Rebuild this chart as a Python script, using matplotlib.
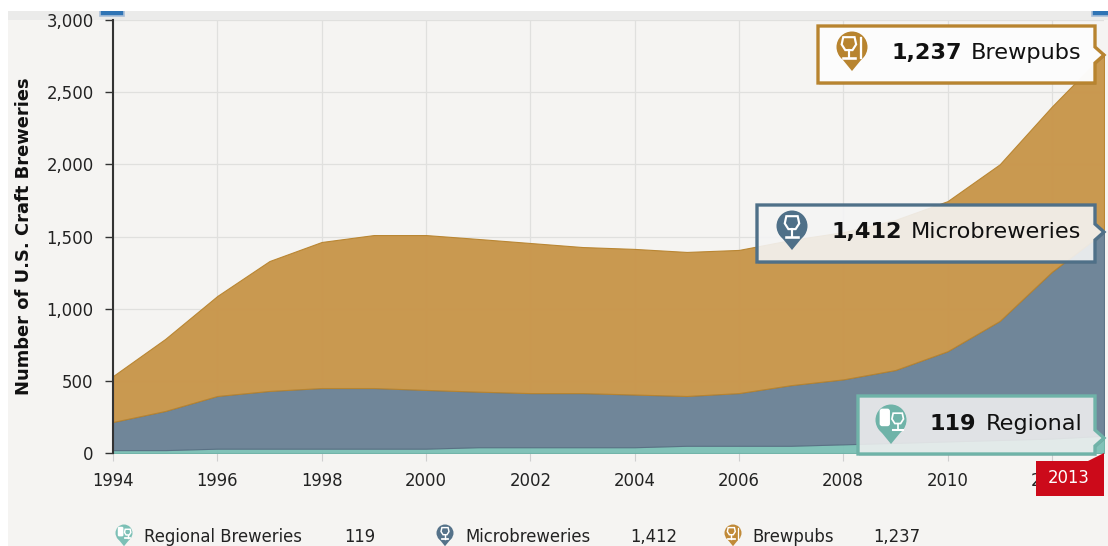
import matplotlib
matplotlib.use("Agg")
import matplotlib.pyplot as plt
from matplotlib.patches import Polygon, Rectangle, Circle, FancyBboxPatch
from matplotlib.ticker import FuncFormatter

years = list(range(1994, 2014))
regional = [20, 20, 30, 30, 30, 30, 30, 40, 40, 40, 40, 50, 50, 50, 60, 70, 80, 90, 100, 119]
micro = [195, 271, 365, 400, 420, 420, 407, 385, 375, 375, 365, 345, 365, 420, 450, 505, 625, 825, 1155, 1412]
brewpubs = [318, 499, 693, 900, 1012, 1060, 1073, 1058, 1040, 1012, 1009, 998, 992, 1006, 1020, 1040, 1040, 1085, 1145, 1237]
series_colors = ["#7cc0b6", "#6b8296", "#c89549"]
edge_colors = ["#6fb3a8", "#5a7084", "#b8842f"]
legend_names = ["Regional Breweries", "Microbreweries", "Brewpubs"]
callout_names = ["Regional", "Microbreweries", "Brewpubs"]
x_ticks = list(range(1994, 2013, 2))
y_ticks = [0, 500, 1000, 1500, 2000, 2500, 3000]

W, H = 1108, 546
plt.rcParams["font.family"] = "DejaVu Sans"
fig = plt.figure(figsize=(W / 100, H / 100), dpi=100, facecolor="white")

# background layer in pixel coordinates
bg = fig.add_axes([0, 0, 1, 1], zorder=0)
bg.set_xlim(0, W); bg.set_ylim(H, 0); bg.axis("off")
bg.add_patch(Rectangle((8, 11), W - 8, H - 11, fc="#f5f4f2", ec="none"))
bg.add_patch(Rectangle((8, 11), W - 8, 9, fc="#ebebea", ec="none"))

# main chart
L, R, T, B = 113, 1104, 20, 453
ax = fig.add_axes([L / W, 1 - B / H, (R - L) / W, (B - T) / H], zorder=1)
ax.patch.set_alpha(0)
polys = ax.stackplot(years, regional, micro, brewpubs, colors=series_colors, alpha=0.96, zorder=3)
for poly, ec in zip(polys, edge_colors):
    poly.set_edgecolor(ec)
    poly.set_linewidth(0.8)
ax.set_xlim(1994, 2013)
ax.set_ylim(0, 3000)
ax.set_xticks(x_ticks)
ax.set_yticks(y_ticks)
ax.yaxis.set_major_formatter(FuncFormatter(lambda v, _: f"{int(v):,}"))
ax.grid(True, color="#e0e0de", linewidth=0.9, zorder=0)
ax.set_axisbelow(True)
for s in ("top", "right", "bottom"):
    ax.spines[s].set_visible(False)
ax.spines["left"].set_color("#333333")
ax.spines["left"].set_linewidth(1.5)
ax.spines["left"].set_zorder(5)
ax.tick_params(axis="y", length=6, width=1, color="#333333", pad=8, labelsize=11.9, labelcolor="#222222")
ax.tick_params(axis="x", length=6, width=0.8, color="#cfcfcf", pad=8, labelsize=11.9, labelcolor="#222222")
ax.set_ylabel("Number of U.S. Craft Breweries", fontweight="bold", fontsize=12.9, color="#111111")
ax.yaxis.set_label_coords((33 - L) / (R - L), 0.5)

# overlay in pixel coordinates
ov = fig.add_axes([0, 0, 1, 1], zorder=2)
ov.set_xlim(0, W); ov.set_ylim(H, 0); ov.axis("off"); ov.patch.set_alpha(0)


def glass(cx, cy, s, c="white"):
    ov.add_patch(Polygon([(cx - 5.5 * s, cy - 9.5 * s), (cx + 5.5 * s, cy - 9.5 * s), (cx + 7 * s, cy - 2.5 * s),
                          (cx + 3.5 * s, cy + 3 * s), (cx - 3.5 * s, cy + 3 * s), (cx - 7 * s, cy - 2.5 * s)],
                         fc="none", ec=c, lw=1.5 * max(s, 0.7), zorder=9))
    ov.plot([cx, cx], [cy + 3 * s, cy + 10 * s], color=c, lw=1.5 * max(s, 0.7), zorder=9)
    ov.plot([cx - 6 * s, cx + 6 * s], [cy + 10.5 * s, cy + 10.5 * s], color=c, lw=1.8 * max(s, 0.7), zorder=9)


def pin(cx, cy, r, color, kind):
    ov.add_patch(Circle((cx, cy), r, fc=color, ec="none", zorder=8))
    ov.add_patch(Polygon([(cx - r * 0.86, cy + r * 0.5), (cx + r * 0.86, cy + r * 0.5), (cx, cy + r * 1.55)],
                         fc=color, ec="none", zorder=8))
    s = r / 15
    if kind == "micro":
        glass(cx, cy, s)
    elif kind == "pub":
        glass(cx - 3 * s, cy, s)
        ov.plot([cx + 9 * s, cx + 9 * s], [cy - 9 * s, cy + 11 * s], color="white", lw=1.6 * s, zorder=9)
    else:
        ov.add_patch(FancyBboxPatch((cx - 11 * s, cy - 11 * s), 10 * s, 17 * s,
                                    boxstyle=f"round,pad=0,rounding_size={2.5 * s}",
                                    fc="white", ec="none", zorder=9))
        glass(cx + 6.5 * s, cy + 1 * s, s * 0.8)


def callout(x0, x1, y0, y1, tip_y, color, alpha, value, name, val_x, name_x, pin_xy, kind):
    tip_x = x1 + 9
    pts = [(x0, y0), (x1, y0), (x1, tip_y - 8), (tip_x, tip_y), (x1, tip_y + 8), (x1, y1), (x0, y1)]
    ov.add_patch(Polygon([(a + 1, b + 1.5) for a, b in pts], fc="#555555", alpha=0.35, ec="none", zorder=6))
    ov.add_patch(Polygon(pts, fc=(1, 1, 1, alpha), ec=color, lw=2.4, joinstyle="miter", zorder=7))
    ov.text(val_x, (y0 + y1) / 2 - 1.5, value, ha="left", va="center", fontsize=16.1, fontweight="bold", color="#111111", zorder=9)
    ov.text(name_x, (y0 + y1) / 2 - 1.5, name, ha="left", va="center", fontsize=16.1, color="#111111", zorder=9)
    pin(pin_xy[0], pin_xy[1], 15.5, color, kind)


callout(818, 1095, 26, 83, 55, "#b8842f", 0.97, f"{brewpubs[-1]:,}", callout_names[2], 891, 971, (852, 47), "pub")
callout(757, 1095, 205, 262, 232, "#4f7088", 0.84, f"{micro[-1]:,}", callout_names[1], 831, 911, (792, 226), "micro")
callout(858, 1095, 396, 454, 438, "#6fb3a8", 0.80, f"{regional[-1]}", callout_names[0], 930, 986, (891, 420), "reg")

# year tag
ov.add_patch(Polygon([(1036, 461), (1088, 461), (1104, 453), (1104, 496), (1036, 496)], fc="#cc0a1a", ec="none", zorder=7))
ov.text(1069, 478, str(years[-1]), ha="center", va="center", fontsize=11.9, color="white", zorder=9)

# legend
leg_y = 537
leg_items = [(124, 144, 344, regional[-1], "#7cc0b6", "reg"),
             (445, 465, 630, micro[-1], "#557289", "micro"),
             (733, 752, 873, brewpubs[-1], "#c08a38", "pub")]
for name, (px, tx, vx, val, col, kind) in zip(legend_names, leg_items):
    pin(px, leg_y - 4, 8.5, col, kind)
    ov.text(tx, leg_y, name, ha="left", va="center", fontsize=11.9, color="#222222", zorder=9)
    ov.text(vx, leg_y, f"{val:,}", ha="left", va="center", fontsize=11.9, color="#222222", zorder=9)

# small window buttons
for bx in (100, 1092):
    ov.add_patch(Rectangle((bx, 5), 24, 11, fc="#2f74b5", ec="#a9bfd8", lw=1.2, zorder=9))
ov.add_patch(Rectangle((0, 0), W, 11, fc="white", ec="none", zorder=10))

fig.savefig("out.png", dpi=100, facecolor="white")
